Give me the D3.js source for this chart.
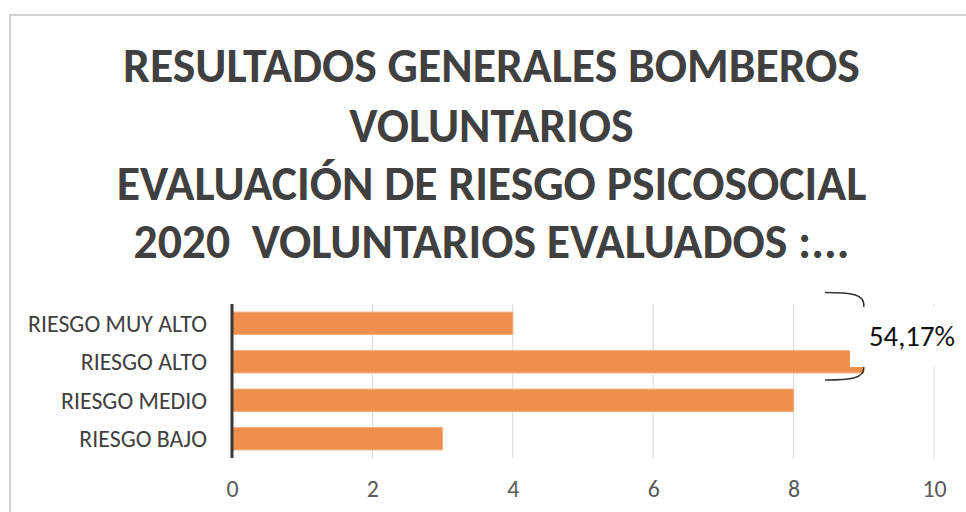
<!DOCTYPE html>
<html><head><meta charset="utf-8">
<script src="https://cdn.jsdelivr.net/npm/d3@7"></script>
<style>html,body{margin:0;padding:0;background:#fff;overflow:hidden} text{white-space:pre}</style>
</head><body>
<svg id="c" width="966" height="512"></svg>
<script>
const titleLines = ["RESULTADOS GENERALES BOMBEROS","VOLUNTARIOS","EVALUACIÓN DE RIESGO PSICOSOCIAL","2020  VOLUNTARIOS EVALUADOS :..."];
const categories = ["RIESGO MUY ALTO","RIESGO ALTO","RIESGO MEDIO","RIESGO BAJO"];
const values = [4,9,8,3];
const ticks = [0,2,4,6,8,10];
const annotation = "54,17%";

const FONT = "Carlito, Calibri, Lato, 'Open Sans', sans-serif";
const svg = d3.select("#c");

// chart border
svg.append("path").attr("d","M10,512 L10,15 L966,15").attr("fill","none").attr("stroke","#c4c4c4").attr("stroke-width",1.5);

function fit(sel, target){
  const w = sel.node().getComputedTextLength();
  const fs = parseFloat(sel.attr("font-size"));
  return fs*target/w;
}

// title
const tg = svg.append("g");
const baselines = [82,141.5,199.5,257.5];
const tt = tg.selectAll("text").data(titleLines).join("text")
  .attr("x",491.5).attr("y",(d,i)=>baselines[i])
  .attr("text-anchor","middle").attr("font-family",FONT).attr("font-weight","bold")
  .attr("font-size",44).attr("fill","#404040").text(d=>d);
const tfs = fit(d3.select(tt.nodes()[0]),737);
tt.attr("font-size",tfs);

const x = d3.scaleLinear().domain([0,10]).range([232,934]);
const y = d3.scaleBand().domain(categories).range([304,458]).paddingInner(0.42).paddingOuter(0.21);

// gridlines
svg.append("g").selectAll("line").data(ticks.filter(t=>t>0)).join("line")
  .attr("x1",d=>x(d)).attr("x2",d=>x(d)).attr("y1",304).attr("y2",458)
  .attr("stroke","#d9d9d9").attr("stroke-width",1);

// bars
svg.append("g").selectAll("rect").data(values).join("rect")
  .attr("x",x(0)).attr("y",(d,i)=>y(categories[i]))
  .attr("width",d=>x(d)-x(0)).attr("height",y.bandwidth())
  .attr("fill","#ef8f4e").attr("stroke","#f5ad7a").attr("stroke-width",1);

// axis line
svg.append("line").attr("x1",x(0)).attr("x2",x(0)).attr("y1",304).attr("y2",458)
  .attr("stroke","#3a3a3a").attr("stroke-width",3);

// x tick labels
const xa = svg.append("g").attr("transform","translate(0,497)")
  .call(d3.axisBottom(x).tickValues(ticks).tickSize(0).tickPadding(0).tickFormat(d3.format("d")));
xa.select(".domain").remove();
xa.selectAll("text").attr("y",0).attr("dy",0).attr("font-family",FONT).attr("font-size",22).attr("fill","#595959");

// category labels
const ya = svg.append("g").attr("transform","translate(207,0)")
  .call(d3.axisLeft(y).tickSize(0).tickPadding(0));
ya.select(".domain").remove();
const yl = ya.selectAll("text").attr("font-family",FONT).attr("font-size",22).attr("fill","#404040").attr("dy","0.35em");
const lfs = fit(d3.select(yl.nodes()[0]),179);
yl.attr("font-size",lfs);
xa.selectAll("text").attr("font-size",lfs);

// brace annotation
const yTop = y(categories[0]) - 19.5, yBot = y(categories[1]) + y.bandwidth() + 7;
const bx = x(values[1]), mid = (yTop+yBot)/2;
svg.append("path")
  .attr("d",`M825,${yTop} C852,${yTop} ${bx},${yTop+2} ${bx},${yTop+12} L${bx},${mid-6} L${bx+7},${mid} L${bx},${mid+6} L${bx},${yBot-12} C${bx},${yBot-2} 852,${yBot} 825,${yBot}`)
  .attr("fill","none").attr("stroke","#333").attr("stroke-width",1.5);
svg.append("rect").attr("x",850).attr("y",307).attr("width",110).attr("height",60).attr("fill","#fff");
const at = svg.append("text").attr("x",912).attr("y",336).attr("dy","0.35em").attr("text-anchor","middle")
  .attr("font-family",FONT).attr("font-size",27).attr("fill","#111").text(annotation);
at.attr("font-size",fit(at,86));
</script>
</body></html>
